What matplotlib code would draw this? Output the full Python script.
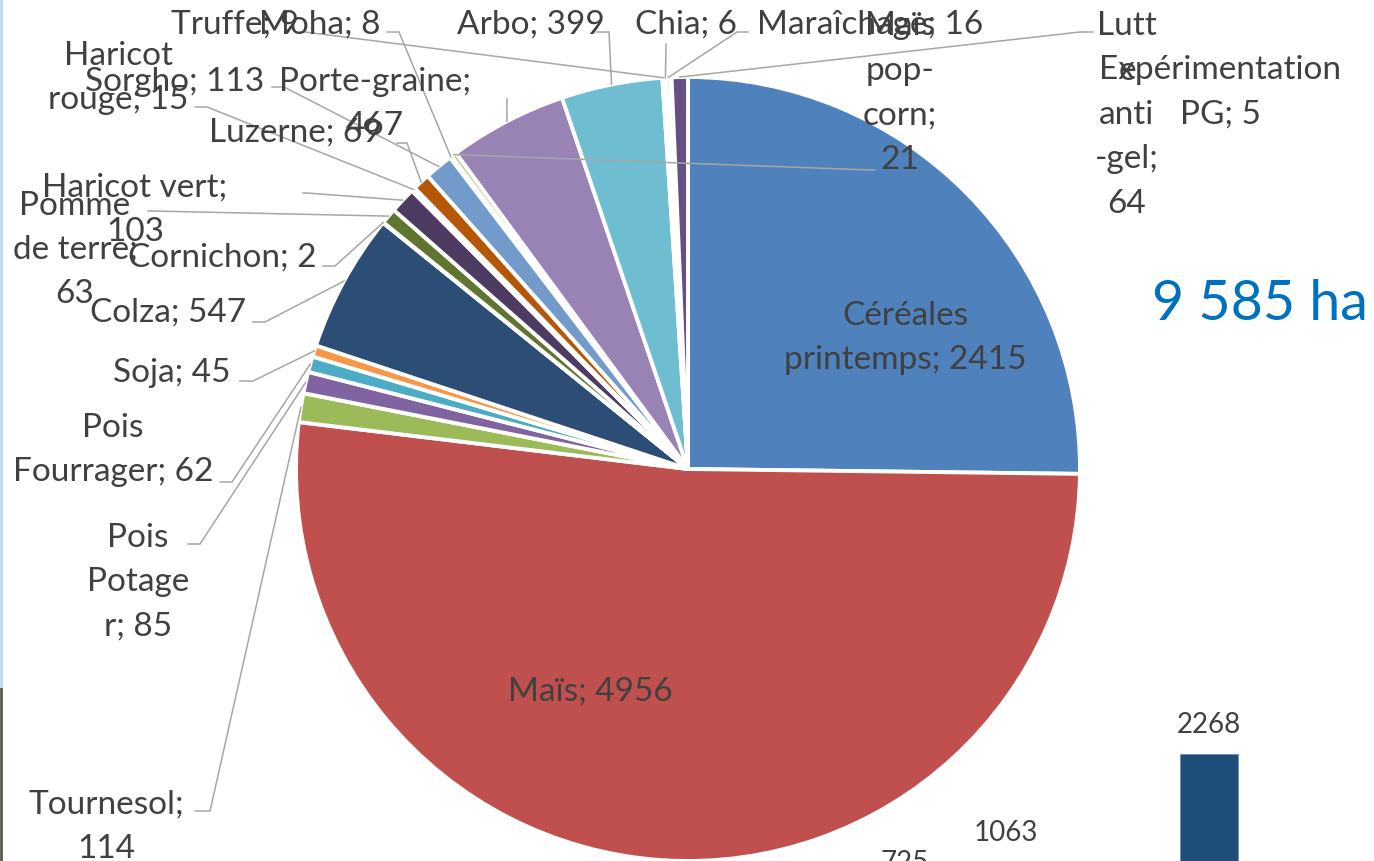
import numpy as np
import matplotlib.pyplot as plt

W, H = 1374, 862

# pie data (Excel series order, clockwise from 12 o'clock)
categories = ["Céréales printemps", "Maïs", "Tournesol", "Pois Potager", "Pois Fourrager",
              "Soja", "Colza", "Cornichon", "Pomme de terre", "Haricot vert",
              "Haricot rouge", "Luzerne", "Sorgho", "Moha", "Maïs pop-corn",
              "Porte-graine", "Arbo", "Truffe", "Chia", "Maraîchage",
              "Expérimentation PG", "Lutte anti-gel"]
values = [2415, 4956, 114, 85, 62, 45, 547, 2, 63, 103, 15, 69, 113, 8, 21,
          467, 399, 9, 6, 16, 5, 64]
colors = ["#4F81BD", "#C0504D", "#9BBB59", "#8064A2", "#4BACC6", "#F79646",
          "#2C4D75", "#772C2A", "#5F7530", "#4D3B62", "#276A7C", "#B65708",
          "#729ACA", "#CD7371", "#AFC97A", "#9983B5", "#6FBDD1", "#F9AB6B",
          "#3A679C", "#9F3B38", "#7E9D40", "#664F83"]
total_text = "9 585 ha"

# bars of the chart lying behind
bar_values = [725, 1063, 2268]

# how Excel wrapped the labels
wraps = {
    "Céréales printemps": "Céréales\nprintemps; {v}",
    "Tournesol": "Tournesol;\n{v}",
    "Pois Potager": "Pois\nPotage\nr; {v}",
    "Pois Fourrager": "Pois\nFourrager; {v}",
    "Pomme de terre": "Pomme\nde terre;\n{v}",
    "Haricot vert": "Haricot vert;\n{v}",
    "Haricot rouge": "Haricot\nrouge; {v}",
    "Maïs pop-corn": "Maïs\npop-\ncorn;\n{v}",
    "Porte-graine": "Porte-graine;\n{v}",
    "Expérimentation PG": "Expérimentation\nPG; {v}",
    "Lutte anti-gel": "Lutt\ne\nanti\n-gel;\n{v}",
}

# label centres and leader stubs, in picture pixels (y down)
label_pos = [(905, 338), (590, 692), (106, 827), (138, 582), (113, 450),
             (172, 373), (168, 313), (222, 258), (75, 250), (135, 210),
             (118, 78), (295, 133), (175, 82), (320, 25), (900, 93),
             (375, 104), (531, 25), (235, 25), (686, 25), (870, 25),
             (1220, 92), (1127, 115)]
stubs = {
    "Tournesol": [(195, 812), (210, 812)],
    "Pois Potager": [(188, 545), (200, 545)],
    "Pois Fourrager": [(220, 483), (232, 483)],
    "Soja": [(240, 382), (253, 382)],
    "Colza": [(253, 323), (265, 323)],
    "Cornichon": [(323, 267), (335, 267)],
    "Pomme de terre": [(148, 212), (152, 212)],
    "Haricot vert": [(303, 194), (307, 194)],
    "Haricot rouge": [(195, 108), (207, 108)],
    "Luzerne": [(397, 144), (407, 144)],
    "Sorgho": [(272, 88), (284, 88)],
    "Moha": [(387, 33), (399, 33)],
    "Maïs pop-corn": [(875, 171), (870, 171)],
    "Porte-graine": [(507, 100), (507, 101)],
    "Arbo": [(597, 33), (609, 33)],
    "Truffe": [(300, 33), (305, 33)],
    "Chia": [(666, 45), (666, 46)],
    "Maraîchage": [(748, 33), (737, 33)],
    "Lutte anti-gel": [(1093, 33), (1080, 33)],
}

FONT = "Lato"
TXT = "#404040"
FS = 24
cx, cy, R = 688, H - 470, 392

fig = plt.figure(figsize=(W / 100, H / 100), dpi=100)
fig.patch.set_facecolor("white")

# bar chart behind (only its top shows)
bax = fig.add_axes([854 / W, (H - 958) / H, 406 / W, 268.8 / H])
bar_x = [0, 1, 3]
bars = bax.bar(bar_x, bar_values, width=0.57, color="#1F4E79", edgecolor="#6F8FB5", linewidth=0.6)
bax.set_xlim(-0.5, 3.5)
bax.set_ylim(0, 3000)
bax.axis("off")
for b, v in zip(bars, bar_values):
    bax.annotate(str(v), (b.get_x() + b.get_width() / 2, v), xytext=(0, 12), textcoords="offset points",
                 ha="center", va="bottom", fontsize=20, color=TXT, family=FONT)

ax = fig.add_axes([0, 0, 1, 1])
ax.patch.set_alpha(0)
wedges, _ = ax.pie(values, colors=colors, startangle=90, counterclock=False,
                   center=(cx, cy), radius=R, frame=False,
                   wedgeprops=dict(edgecolor="white", linewidth=2.8))
ax.set_xlim(0, W)
ax.set_ylim(0, H)
ax.set_aspect("equal")
ax.axis("off")

for name, v, w, (lx, ly) in zip(categories, values, wedges, label_pos):
    txt = wraps.get(name, "{n}; {v}").format(n=name, v=v)
    ax.text(lx, H - ly, txt, ha="center", va="center", multialignment="center",
            fontsize=FS, color=TXT, family=FONT, linespacing=1.6, zorder=5)
    if name in stubs:
        a = np.radians((w.theta1 + w.theta2) / 2)
        ex, ey = cx + R * np.cos(a), cy + R * np.sin(a)
        (x0, y0), (x1, y1) = stubs[name]
        ax.plot([x0, x1, ex], [H - y0, H - y1, ey], color="#A6A6A6", lw=1.1, zorder=4,
                solid_joinstyle="miter")

ax.text(1260, H - 305, total_text, ha="center", va="center", fontsize=40,
        color="#0070C0", family=FONT)

# window edge on the left
ax.plot([1, 1], [H, H - 690], color="#BDD7EE", lw=2)
ax.plot([1, 1], [H - 690, 0], color="#5E5A48", lw=2)

fig.savefig("out.png", dpi=100)
